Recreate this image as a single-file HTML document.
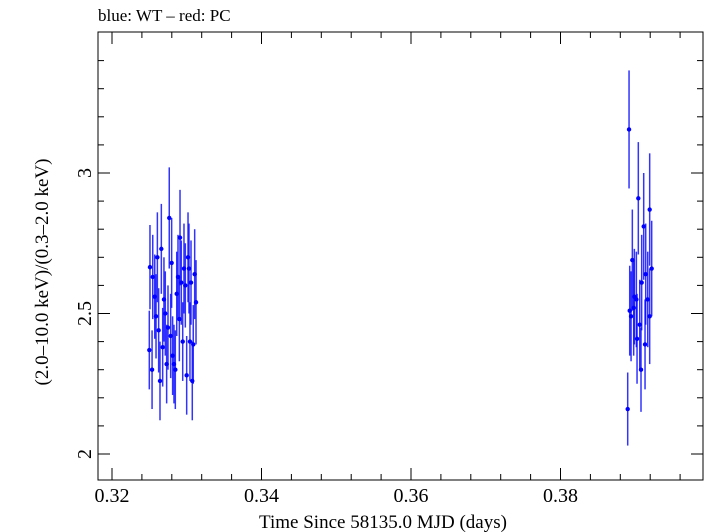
<!DOCTYPE html>
<html><head><meta charset="utf-8"><style>
body{margin:0;background:#fff;}
svg{display:block;font-family:"Liberation Serif",serif;}
</style></head><body>
<svg id="chart" width="705" height="532">
<text x="98" y="21" font-size="17">blue: WT – red: PC</text>
<rect x="98" y="32" width="605" height="448" fill="none" stroke="#000" stroke-width="1"/>
<text x="383" y="528" font-size="19" text-anchor="middle">Time Since 58135.0 MJD (days)</text>
<text transform="translate(48,272) rotate(-90)" font-size="19" text-anchor="middle">(2.0–10.0 keV)/(0.3–2.0 keV)</text>
<g id="axes"></g><g id="marks"></g>
</svg>
<script>
const times=[0.32508,0.32499,0.32536,0.32545,0.32572,0.32589,0.32607,0.32624,0.32642,0.32660,0.32678,0.32695,0.32713,0.32731,0.32749,0.32766,0.32785,0.32798,0.32811,0.32829,0.32847,0.32866,0.32883,0.32901,0.32910,0.32927,0.32946,0.32963,0.32981,0.32999,0.33017,0.33030,0.33043,0.33057,0.33074,0.33087,0.33106,0.33124,
0.38917,0.38899,0.39041,0.39193,0.39113,0.38961,0.39220,0.39140,0.39086,0.38988,0.39015,0.39167,0.38926,0.38979,0.38944,0.39193,0.39060,0.39024,0.39131,0.39077];
const ratios=[2.665,2.37,2.30,2.63,2.56,2.49,2.70,2.44,2.26,2.73,2.38,2.55,2.50,2.32,2.45,2.84,2.42,2.68,2.35,2.32,2.30,2.57,2.63,2.48,2.77,2.61,2.40,2.66,2.60,2.28,2.70,2.66,2.40,2.61,2.26,2.39,2.64,2.54,
3.155,2.16,2.91,2.87,2.81,2.69,2.66,2.64,2.61,2.56,2.55,2.55,2.51,2.52,2.49,2.49,2.46,2.41,2.39,2.30];
const errors=[0.15,0.14,0.14,0.15,0.15,0.15,0.16,0.15,0.14,0.16,0.14,0.15,0.15,0.14,0.15,0.18,0.15,0.16,0.14,0.14,0.14,0.15,0.15,0.15,0.17,0.15,0.14,0.16,0.15,0.14,0.16,0.16,0.14,0.15,0.14,0.14,0.16,0.15,
0.21,0.13,0.2,0.2,0.19,0.18,0.17,0.18,0.17,0.17,0.17,0.17,0.16,0.17,0.16,0.17,0.16,0.16,0.16,0.15];
const xTicks=[0.32,0.34,0.36,0.38];
const xTickLabels=["0.32","0.34","0.36","0.38"];
const yTicks=[2,2.5,3];
const yTickLabels=["2","2.5","3"];
const L=98,R=703,T=32,B=480;
const xs=v=>112+(v-0.32)*7475;
const ys=v=>173+(3-v)*281;
const NS="http://www.w3.org/2000/svg";
function mk(tag,attrs,parent){const e=document.createElementNS(NS,tag);for(const k in attrs)e.setAttribute(k,attrs[k]);parent.appendChild(e);return e;}
const ax=document.getElementById('axes'),mg=document.getElementById('marks');
for(let v=0.316;v<=0.3985;v+=0.004){const x=xs(v);if(x<L||x>R)continue;
 const major=xTicks.some(t=>Math.abs(t-v)<1e-6);const len=major?12:6;
 const a=mk('line',{x1:x,x2:x,y1:B,y2:B-len,stroke:'#000'},ax);
 const b=mk('line',{x1:x,x2:x,y1:T,y2:T+len,stroke:'#000'},ax);}
xTicks.forEach((t,i)=>{const e=mk('text',{x:xs(t),y:502,'font-size':20,'text-anchor':'middle'},ax);e.textContent=xTickLabels[i];
 });
for(let v=1.9;v<=3.45;v+=0.1){const y=ys(v);if(y<T||y>B)continue;
 const major=yTicks.some(t=>Math.abs(t-v)<1e-6);const len=major?12:6;
 const a=mk('line',{x1:L,x2:L+len,y1:y,y2:y,stroke:'#000'},ax);
 const b=mk('line',{x1:R,x2:R-len,y1:y,y2:y,stroke:'#000'},ax);}
yTicks.forEach((t,i)=>{const e=mk('text',{transform:`translate(91,${ys(t)}) rotate(-90)`,'font-size':20,'text-anchor':'middle'},ax);e.textContent=yTickLabels[i];
 });
times.forEach((t,i)=>{const x=xs(t),y=ys(ratios[i]);
 const l=mk('line',{x1:x,x2:x,y1:ys(ratios[i]+errors[i]),y2:ys(ratios[i]-errors[i]),stroke:'#0000ff','stroke-width':1.5,'stroke-opacity':0.8},mg);
 
 const c=mk('circle',{cx:x,cy:y,r:2.2,fill:'#0000ff'},mg);
 });
</script>
</body></html>
